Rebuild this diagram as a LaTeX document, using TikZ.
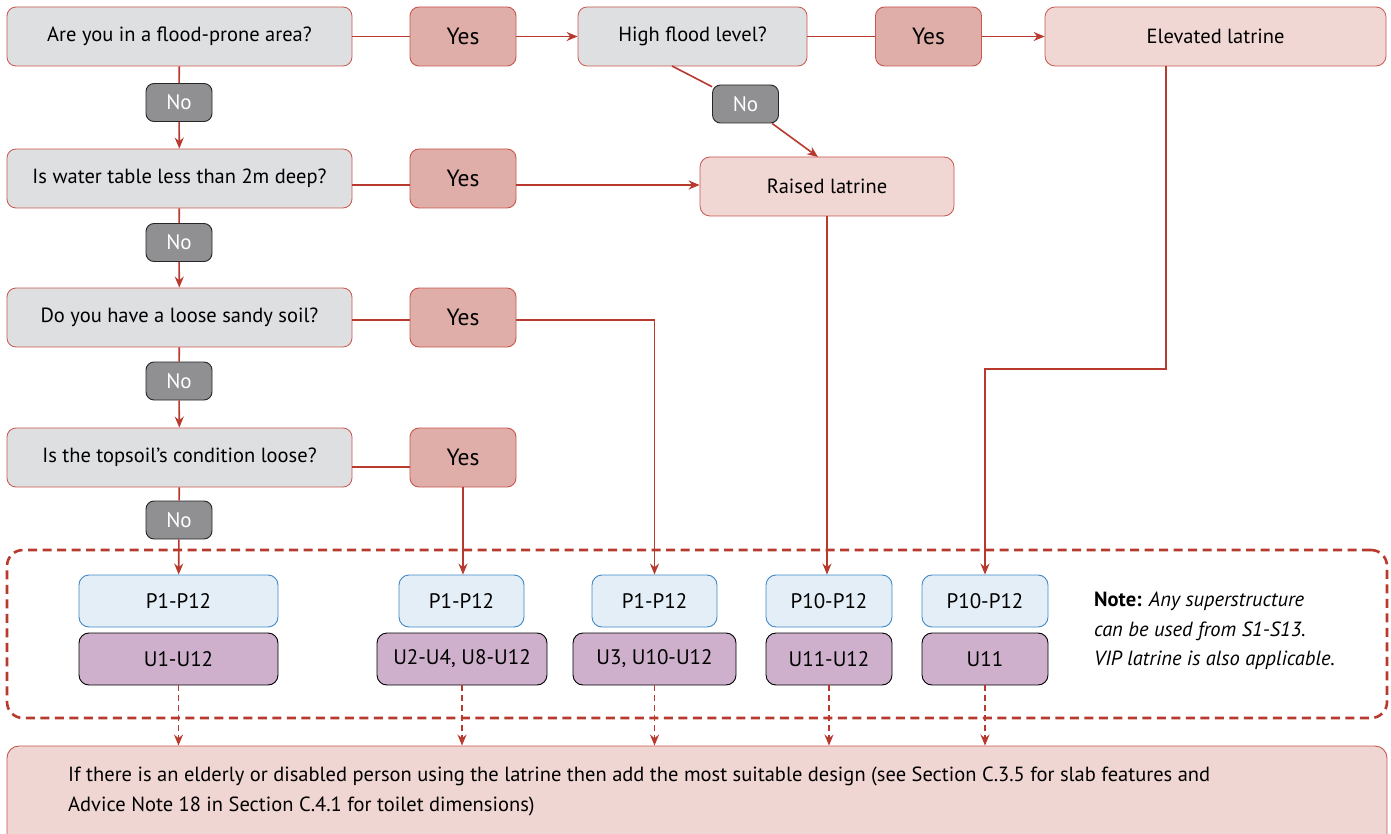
\documentclass[tikz,border=0pt]{standalone}
\usepackage{fontspec}
\setmainfont{PT Sans}
\usetikzlibrary{arrows.meta}

\definecolor{linered}{HTML}{B83A2E}
\definecolor{boxred}{HTML}{C9574E}
\definecolor{qgray}{HTML}{DEDFE1}
\definecolor{yesfill}{HTML}{E0AEA9}
\definecolor{nofill}{HTML}{909093}
\definecolor{latfill}{HTML}{F0D7D4}
\definecolor{pfill}{HTML}{E4EEF6}
\definecolor{pblue}{HTML}{3F88C9}
\definecolor{ufill}{HTML}{CEB0CC}
\definecolor{botfill}{HTML}{EFD6D3}

\tikzset{
  qbox/.style={draw=boxred, line width=0.8pt, fill=qgray, rounded corners=9pt,
    minimum width=345pt, minimum height=59pt, inner sep=0pt,
    font=\fontsize{20.5}{24}\selectfont},
  yesbox/.style={draw=boxred, line width=0.9pt, fill=yesfill, rounded corners=9pt,
    minimum width=106pt, minimum height=59pt, inner sep=0pt,
    font=\fontsize{23.5}{28}\selectfont},
  nobox/.style={draw=black!85, line width=0.9pt, fill=nofill, text=white, rounded corners=8pt,
    minimum width=66pt, minimum height=38pt, inner sep=0pt,
    font=\fontsize{21}{25}\selectfont},
  latbox/.style={draw=boxred, line width=0.8pt, fill=latfill, rounded corners=10pt,
    minimum height=59pt, inner sep=0pt, font=\fontsize{20.5}{24}\selectfont},
  pbox/.style={draw=pblue, line width=0.9pt, fill=pfill, rounded corners=10pt,
    minimum height=52pt, inner sep=0pt, font=\fontsize{21}{25}\selectfont},
  ubox/.style={draw=black, line width=0.9pt, fill=ufill, rounded corners=10pt,
    minimum height=52pt, inner sep=0pt, font=\fontsize{21}{25}\selectfont},
  conn/.style={draw=linered, line width=1.6pt},
  arr/.style={conn, -{Stealth[length=11pt,width=9pt]}},
  darr/.style={draw=linered, line width=1.5pt, dash pattern=on 6pt off 4pt,
    -{Stealth[length=11pt,width=9pt]}},
  frame/.style={draw=linered, line width=2.6pt, dash pattern=on 9pt off 5.5pt,
    rounded corners=16pt, minimum width=1380pt, minimum height=168pt, inner sep=0pt},
  botbox/.style={draw=boxred, line width=0.9pt, fill=botfill, rounded corners=12pt,
    minimum width=1380pt, minimum height=100pt, inner sep=0pt},
}

\begin{document}
\begin{tikzpicture}[x=1pt,y=-1pt]
\useasboundingbox[fill=white] (0,0) rectangle (1391,834);

% dashed frame around the recommended pit and slab ranges
\node[frame] (frame) at (697,634) {};
% bottom advice panel
\node[botbox] (bottom) at (697,796) {};
\node[anchor=west, align=left, inner sep=0pt, font=\fontsize{20.5}{30}\selectfont] (bottomtext) at (68,791)
  {If there is an elderly or disabled person using the latrine then add the most suitable design (see Section C.3.5 for slab features and\\
   Advice Note 18 in Section C.4.1 for toilet dimensions)};

% questions
\node[qbox] (q1) at (179.5,36.5) {Are you in a flood-prone area?};
\node[qbox] (q3) at (179.5,178.5) {Is water table less than 2m deep?};
\node[qbox] (q4) at (179.5,317.5) {Do you have a loose sandy soil?};
\node[qbox] (q5) at (179.5,457.5) {Is the topsoil's condition loose?};
\node[qbox, minimum width=229pt] (q2) at (692.5,36.5) {High flood level?};

% answers
\node[yesbox] (y1) at (463,36.5) {Yes};
\node[yesbox] (y2) at (928.5,36.5) {Yes};
\node[yesbox] (y3) at (463,178.5) {Yes};
\node[yesbox] (y4) at (463,317.5) {Yes};
\node[yesbox] (y5) at (463,457.5) {Yes};
\node[nobox] (n1) at (179,102.5) {No};
\node[nobox] (n2) at (745.5,104) {No};
\node[nobox] (n3) at (179,242.5) {No};
\node[nobox] (n4) at (179,381) {No};
\node[nobox] (n5) at (179,520) {No};

% latrine types
\node[latbox, minimum width=341pt] (elev) at (1215.5,36.5) {Elevated latrine};
\node[latbox, minimum width=254pt] (raised) at (827,186.5) {Raised latrine};

% pit and slab ranges
\node[pbox, minimum width=199pt] (p1) at (178.5,601) {P1-P12};
\node[ubox, minimum width=199pt] (u1) at (178.5,659) {U1-U12};
\node[pbox, minimum width=125pt] (p2) at (461.5,601) {P1-P12};
\node[ubox, minimum width=170pt] (u2) at (462,659) {U2-U4, U8-U12};
\node[pbox, minimum width=125pt] (p3) at (654.5,601) {P1-P12};
\node[ubox, minimum width=163pt] (u3) at (654.5,659) {U3, U10-U12};
\node[pbox, minimum width=126pt] (p4) at (829,601) {P10-P12};
\node[ubox, minimum width=126pt] (u4) at (829,659) {U11-U12};
\node[pbox, minimum width=126pt] (p5) at (985,601) {P10-P12};
\node[ubox, minimum width=126pt] (u5) at (985,659) {U11};

\node[anchor=north west, align=left, inner sep=0pt, font=\fontsize{20.5}{29.5}\selectfont] (note) at (1094,592)
  {\textbf{Note:} \textit{Any superstructure}\\ \textit{can be used from S1-S13.}\\ \textit{VIP latrine is also applicable.}};

% flood branch
\draw[conn] (q1) -- (y1);
\draw[arr] (y1) -- (q2);
\draw[conn] (q2) -- (y2);
\draw[arr] (y2) -- (elev);
\coordinate (q2out) at (672,66);
\coordinate (raisedin) at (818,157);
\draw[conn] (q2out) -- (n2);
\draw[arr] (n2) -- (raisedin);

% main "No" column
\draw[conn] (q1) -- (n1);
\draw[arr] (n1) -- (q3);
\draw[conn] (q3) -- (n3);
\draw[arr] (n3) -- (q4);
\draw[conn] (q4) -- (n4);
\draw[arr] (n4) -- (q5);
\draw[conn] (q5) -- (n5);
\draw[arr] (n5) -- (p1);

% "Yes" branches
\draw[conn] (q3.east |- 0,185) -- (y3.west |- 0,185);
\draw[arr] (y3.east |- 0,185) -- (raised.west |- 0,185);
\draw[conn] (q4.east |- 0,320) -- (y4.west |- 0,320);
\draw[arr] (y4.east |- 0,320) -| (p3.north);
\draw[conn] (q5.east |- 0,467) -- (y5.west |- 0,467);
\draw[arr] (y5.south) -- (y5.south |- p2.north);
\draw[arr] (raised.south) -- (raised.south |- p4.north);
\coordinate (ebend) at (1166,369);
\draw[arr] (elev.south -| ebend) -- (ebend) -| (p5.north);

% into the advice panel
\foreach \u in {u1,u2,u3,u4,u5}
  \draw[darr] (\u.south) -- (\u.south |- bottom.north);
\end{tikzpicture}
\end{document}
